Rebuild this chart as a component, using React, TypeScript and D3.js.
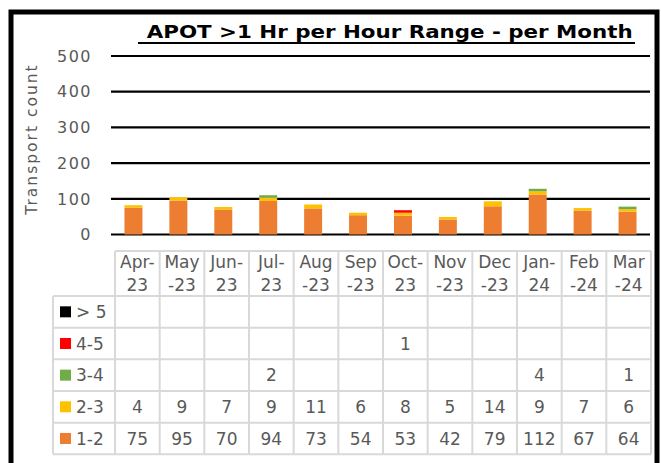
import React from "react";
import * as d3 from "d3";

const months = ["Apr-23", "May-23", "Jun-23", "Jul-23", "Aug-23", "Sep-23", "Oct-23", "Nov-23", "Dec-23", "Jan-24", "Feb-24", "Mar-24"];
const monthLine1 = ["Apr-", "May", "Jun-", "Jul-", "Aug", "Sep", "Oct-", "Nov", "Dec", "Jan-", "Feb", "Mar"];
const monthLine2 = ["23", "-23", "23", "23", "-23", "-23", "23", "-23", "-23", "24", "-24", "-24"];

const seriesNames = ["1-2", "2-3", "3-4", "4-5", "> 5"];
const seriesColors = ["#ED7D31", "#FFC000", "#70AD47", "#FF0000", "#000000"];

const s12: (number | null)[] = [75, 95, 70, 94, 73, 54, 53, 42, 79, 112, 67, 64];
const s23: (number | null)[] = [4, 9, 7, 9, 11, 6, 8, 5, 14, 9, 7, 6];
const s34: (number | null)[] = [null, null, null, 2, null, null, null, null, null, 4, null, 1];
const s45: (number | null)[] = [null, null, null, null, null, null, 1, null, null, null, null, null];
const s5: (number | null)[] = [null, null, null, null, null, null, null, null, null, null, null, null];

const seriesValues = [s12, s23, s34, s45, s5];
const yTicks = [0, 100, 200, 300, 400, 500];

const W = 661;
const H = 463;
const FONT = "Verdana, 'DejaVu Sans', sans-serif";
const GRAY = "#595959";
const GRID = "#d9d9d9";

export default function App() {
  const x = d3.scaleBand<string>().domain(months).range([111, 650]).paddingInner(0.6).paddingOuter(0.3);
  const y = d3.scaleLinear().domain([0, 500]).range([234.5, 56]);
  const tableX = d3.scaleBand<string>().domain(months).range([115, 651]);

  const tableTop = 251;
  const headerBottom = 296;
  const rowH = (454.3 - headerBottom) / 5;
  const rowOrder = [4, 3, 2, 1, 0];
  const legendLeft = 53;

  const segs: { key: string; x: number; y: number; h: number; color: string }[] = [];
  months.forEach((m, i) => {
    let acc = 0;
    let prevTop = y(0);
    seriesValues.forEach((vals, si) => {
      const v = vals[i];
      if (v == null || v === 0) return;
      const y0 = y(acc);
      const y1 = y(acc + v);
      acc += v;
      const bottom = Math.min(y0, prevTop);
      const h = Math.max(bottom - y1, 2.5);
      const top = bottom - h;
      prevTop = top;
      segs.push({ key: `${m}-${si}`, x: x(m)!, y: top, h, color: seriesColors[si] });
    });
  });

  return (
    <svg width={W} height={H} style={{ position: "absolute", left: 0, top: 0, background: "#fff" }} fontFamily={FONT}>
      <rect x={0} y={0} width={W} height={H} fill="#fff" />
      <rect x={11} y={12} width={646} height={480} fill="none" stroke="#000" strokeWidth={5} />

      <text x={146.7} y={38} fontSize={18.5} fontWeight="bold" fill="#000" textLength={486} lengthAdjust="spacingAndGlyphs">
        APOT &gt;1 Hr per Hour Range - per Month
      </text>
      <line x1={138} x2={635} y1={43} y2={43} stroke="#000" strokeWidth={2} />

      {yTicks.map((t) => (
        <g key={t}>
          <line x1={111} x2={650} y1={y(t)} y2={y(t)} stroke="#000" strokeWidth={2.2} />
          <text x={92} y={y(t)} dy="0.36em" textAnchor="end" fontSize={16} fill={GRAY} letterSpacing={1.5}>
            {t}
          </text>
        </g>
      ))}

      <text
        transform={`translate(37,139) rotate(-90)`}
        textAnchor="middle"
        fontSize={15.5}
        fill={GRAY}
        letterSpacing={2}
      >
        Transport count
      </text>

      {segs.map((s) => (
        <rect key={s.key} x={s.x} y={s.y} width={x.bandwidth()} height={s.h} fill={s.color} />
      ))}

      {months.map((m, i) => {
        const cx = tableX(m)! + tableX.bandwidth() / 2;
        return (
          <g key={m}>
            <text x={cx} y={268} textAnchor="middle" fontSize={17} fill={GRAY}>
              {monthLine1[i]}
            </text>
            <text x={cx} y={290.5} textAnchor="middle" fontSize={17} fill={GRAY}>
              {monthLine2[i]}
            </text>
          </g>
        );
      })}

      {rowOrder.map((si, r) => {
        const top = headerBottom + r * rowH;
        const cy = top + rowH / 2;
        return (
          <g key={si}>
            <rect x={60} y={cy - 5.5} width={11} height={11} fill={seriesColors[si]} />
            <text x={76} y={cy} dy="0.36em" fontSize={17} fill={GRAY}>
              {seriesNames[si]}
            </text>
            {months.map((m, i) => {
              const v = seriesValues[si][i];
              if (v == null) return null;
              return (
                <text key={m} x={tableX(m)! + tableX.bandwidth() / 2} y={cy} dy="0.36em" textAnchor="middle" fontSize={17} fill={GRAY}>
                  {v}
                </text>
              );
            })}
          </g>
        );
      })}

      <g stroke={GRID} strokeWidth={2} fill="none">
        <line x1={115} x2={651} y1={tableTop} y2={tableTop} />
        {d3.range(6).map((r) => (
          <line key={r} x1={legendLeft} x2={651} y1={headerBottom + r * rowH} y2={headerBottom + r * rowH} />
        ))}
        <line x1={legendLeft} x2={legendLeft} y1={headerBottom} y2={headerBottom + 5 * rowH} />
        {d3.range(13).map((c) => {
          const xx = 115 + c * tableX.step();
          return <line key={c} x1={xx} x2={xx} y1={tableTop} y2={headerBottom + 5 * rowH} />;
        })}
      </g>
    </svg>
  );
}
